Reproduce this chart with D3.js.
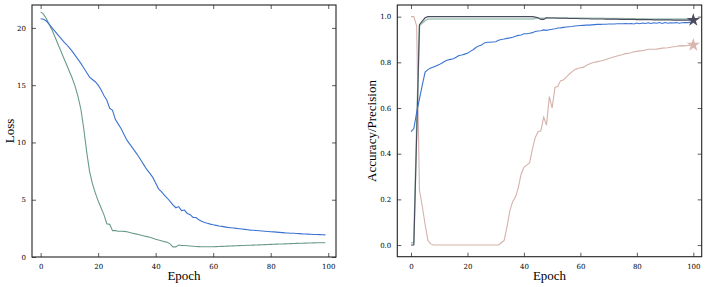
<!DOCTYPE html>
<html><head><meta charset="utf-8">
<script src="https://cdn.jsdelivr.net/npm/d3@7"></script>
<style>
html,body{margin:0;padding:0;background:#fff;}
svg{display:block;}
.tick text{font-family:"DejaVu Serif",serif;font-size:7px;fill:#000;}
.lab{font-family:"Liberation Serif","DejaVu Serif",serif;font-size:13px;fill:#000;}
</style>
</head><body>
<svg id="c" width="707" height="287"></svg>
<script>
// ---- data ----
const lossEpochs = d3.range(0, 100);
const lossBlue = [20.8,20.75,20.6,20.3,20.0,19.7,19.4,19.1,18.8,18.55,18.25,17.95,17.6,17.25,16.9,16.5,16.1,15.7,15.5,15.3,
15.0,14.6,14.1,13.7,13.0,12.8,12.0,11.6,11.2,10.7,10.2,9.85,9.5,9.15,8.8,8.4,8.0,7.6,7.3,6.95,
6.45,5.95,5.7,5.4,5.15,4.85,4.55,4.3,4.4,4.05,4.1,3.8,3.7,3.45,3.45,3.25,3.12,3.02,2.94,2.87,
2.81,2.76,2.71,2.67,2.63,2.59,2.56,2.53,2.5,2.47,2.44,2.41,2.38,2.35,2.33,2.31,2.29,2.27,2.25,2.23,
2.21,2.19,2.17,2.15,2.13,2.11,2.1,2.08,2.07,2.05,2.04,2.02,2.01,2.0,1.99,1.97,1.96,1.95,1.94,1.93];
const lossGreen = [21.4,21.2,20.8,20.3,19.8,19.2,18.6,18.0,17.4,16.8,16.2,15.6,14.9,14.0,12.9,11.2,9.2,7.5,6.4,5.6,
4.9,4.3,3.7,2.9,2.85,2.3,2.3,2.25,2.25,2.24,2.2,2.14,2.08,2.02,1.96,1.9,1.84,1.78,1.72,1.64,
1.55,1.48,1.42,1.34,1.28,1.15,0.88,0.88,1.05,1.0,1.0,0.98,0.96,0.94,0.92,0.91,0.9,0.9,0.9,0.9,
0.9,0.91,0.92,0.93,0.94,0.95,0.96,0.97,0.98,0.99,1.0,1.01,1.02,1.03,1.04,1.05,1.06,1.07,1.08,1.09,
1.1,1.11,1.12,1.13,1.14,1.15,1.16,1.17,1.18,1.19,1.2,1.2,1.21,1.22,1.22,1.23,1.24,1.24,1.25,1.25];

const accEpochs = d3.range(0, 100);
const accBlue = [0.497,0.51,0.58,0.64,0.70,0.757,0.768,0.775,0.78,0.785,0.79,0.797,0.805,0.81,0.813,0.816,0.822,0.83,0.832,0.836,
0.84,0.848,0.855,0.865,0.872,0.876,0.885,0.888,0.888,0.889,0.89,0.897,0.9,0.902,0.905,0.907,0.91,0.914,0.918,0.92,
0.925,0.925,0.927,0.93,0.935,0.937,0.938,0.942,0.94,0.943,0.945,0.947,0.95,0.951,0.953,0.955,0.956,0.957,0.959,0.96,
0.961,0.962,0.963,0.963,0.964,0.965,0.966,0.966,0.967,0.967,0.968,0.968,0.968,0.969,0.969,0.969,0.97,0.969,0.97,0.968,
0.972,0.969,0.972,0.97,0.973,0.97,0.973,0.971,0.974,0.97,0.974,0.971,0.973,0.972,0.974,0.971,0.973,0.974,0.974,0.975];
const accDark = [0,0,0.48,0.965,0.98,0.995,1,1,1,1,1,1,1,1,1,1,1,1,1,1,
1,1,1,1,1,1,1,1,1,1,1,1,1,1,1,1,1,1,1,1,
1,1,1,1,0.998,0.995,0.988,0.988,0.995,0.994,0.994,0.994,0.993,0.993,0.993,0.993,0.992,0.992,0.992,0.992,
0.991,0.991,0.991,0.991,0.99,0.99,0.99,0.99,0.99,0.989,0.989,0.989,0.989,0.989,0.988,0.988,0.988,0.988,0.988,0.988,
0.987,0.987,0.987,0.987,0.987,0.987,0.986,0.986,0.986,0.986,0.986,0.986,0.986,0.985,0.985,0.985,0.985,0.985,0.985,0.985];
const accTeal = [0.01,0.01,0.5,0.96,0.972,0.983,0.99,0.99,0.99,0.99,0.99,0.99,0.99,0.99,0.99,0.99,0.99,0.99,0.99,0.99,
0.99,0.99,0.99,0.99,0.99,0.99,0.99,0.99,0.99,0.99,0.99,0.99,0.99,0.99,0.99,0.99,0.99,0.99,0.99,0.99,
0.99,0.99,0.99,0.99,0.992,0.993,0.993,0.993,0.995,0.995,0.995,0.995,0.995,0.995,0.995,0.995,0.994,0.994,0.994,0.994,
0.994,0.994,0.993,0.993,0.993,0.993,0.993,0.993,0.993,0.992,0.992,0.992,0.992,0.992,0.992,0.992,0.991,0.991,0.991,0.991,
0.991,0.991,0.991,0.991,0.99,0.99,0.99,0.99,0.99,0.99,0.99,0.99,0.99,0.99,0.99,0.99,0.99,0.99,0.99,0.99];
const precPink = [1.0,1.0,0.96,0.24,0.17,0.09,0.02,0.005,0,0,0,0,0,0,0,0,0,0,0,0,
0,0,0,0,0,0,0,0,0,0,0,0,0.01,0.02,0.08,0.15,0.19,0.21,0.25,0.31,
0.34,0.35,0.36,0.42,0.47,0.496,0.50,0.56,0.525,0.65,0.60,0.69,0.695,0.72,0.723,0.735,0.748,0.758,0.768,0.773,
0.776,0.778,0.786,0.792,0.797,0.80,0.803,0.806,0.808,0.812,0.817,0.82,0.824,0.828,0.831,0.834,0.838,0.84,0.842,0.846,
0.848,0.85,0.851,0.854,0.857,0.857,0.857,0.858,0.86,0.862,0.863,0.864,0.866,0.868,0.869,0.872,0.873,0.872,0.874,0.874];
const starEpoch = 100;
const starDark = 0.985;
const starPink = 0.876;

const lossYTicks = [0,5,10,15,20];
const epochTicks = [0,20,40,60,80,100];
const accYTicks = [0,0.2,0.4,0.6,0.8,1.0];

// ---- drawing ----
const svg = d3.select("#c");

function frame(g, x, y, xt, yt, yfmt) {
  const [x0,x1] = x.range(), [y0,y1] = y.range();
  const tl = 4;
  const ax = g.append("g").attr("transform", `translate(0,${y0})`)
    .call(d3.axisBottom(x).tickValues(xt).tickSize(-tl).tickPadding(7).tickFormat(d3.format("d")));
  const at = g.append("g").attr("transform", `translate(0,${y1})`)
    .call(d3.axisTop(x).tickValues(xt).tickSize(-tl).tickFormat(""));
  const ay = g.append("g").attr("transform", `translate(${x0},0)`)
    .call(d3.axisLeft(y).tickValues(yt).tickSize(-tl).tickPadding(6).tickFormat(yfmt));
  const ar = g.append("g").attr("transform", `translate(${x1},0)`)
    .call(d3.axisRight(y).tickValues(yt).tickSize(-tl).tickFormat(""));
  [ax,at,ay,ar].forEach(a => { a.select(".domain").remove(); a.selectAll("line").attr("stroke","#333").attr("stroke-width",0.8); });
  g.append("rect").attr("x",x0).attr("y",y1).attr("width",x1-x0).attr("height",y0-y1)
    .attr("fill","none").attr("stroke","#222").attr("stroke-width",1.1);
}

// Left: loss
{
  const x = d3.scaleLinear().domain([-3, 102.7]).range([32, 336]);
  const y = d3.scaleLinear().domain([0, 22]).range([257, 5]);
  const g = svg.append("g");
  const line = (arr) => d3.line().x((d,i)=>x(lossEpochs[i])).y(d=>y(d))(arr);
  g.append("path").attr("d", line(lossGreen)).attr("fill","none").attr("stroke","#6a9b88").attr("stroke-width",1.1);
  g.append("path").attr("d", line(lossBlue)).attr("fill","none").attr("stroke","#3b73d3").attr("stroke-width",1.1);
  frame(g, x, y, epochTicks, lossYTicks, d3.format("d"));
  g.append("text").attr("class","lab").attr("x",184).attr("y",280).attr("text-anchor","middle").text("Epoch");
  g.append("text").attr("class","lab").attr("transform","translate(14,131) rotate(-90)").attr("text-anchor","middle").text("Loss");
}

// Right: accuracy / precision
{
  const x = d3.scaleLinear().domain([-4.85, 102.97]).range([397.3, 701.7]);
  const y = d3.scaleLinear().domain([-0.051, 1.051]).range([256.7, 5]);
  const g = svg.append("g");
  const line = (arr) => d3.line().x((d,i)=>x(accEpochs[i])).y(d=>y(d))(arr);
  g.append("path").attr("d", line(precPink)).attr("fill","none").attr("stroke","#d5b1ab").attr("stroke-width",1.1);
  g.append("path").attr("d", line(accTeal)).attr("fill","none").attr("stroke","#a3c6b9").attr("stroke-width",1.6);
  g.append("path").attr("d", line(accDark)).attr("fill","none").attr("stroke","#4a4b5c").attr("stroke-width",1.1);
  g.append("path").attr("d", line(accBlue)).attr("fill","none").attr("stroke","#3b73d3").attr("stroke-width",1.1);
  const star = d3.symbol().type(d3.symbolStar).size(55);
  g.append("path").attr("d", star()).attr("transform",`translate(${x(starEpoch)},${y(starDark)})`).attr("fill","#4a4b5e");
  g.append("path").attr("d", star()).attr("transform",`translate(${x(starEpoch)},${y(starPink)})`).attr("fill","#d9b6b0");
  frame(g, x, y, epochTicks, accYTicks, d3.format(".1f"));
  g.append("text").attr("class","lab").attr("x",549.5).attr("y",280).attr("text-anchor","middle").text("Epoch");
  g.append("text").attr("class","lab").attr("transform","translate(376,131) rotate(-90)").attr("text-anchor","middle").text("Accuracy/Precision");
}
</script>
</body></html>
